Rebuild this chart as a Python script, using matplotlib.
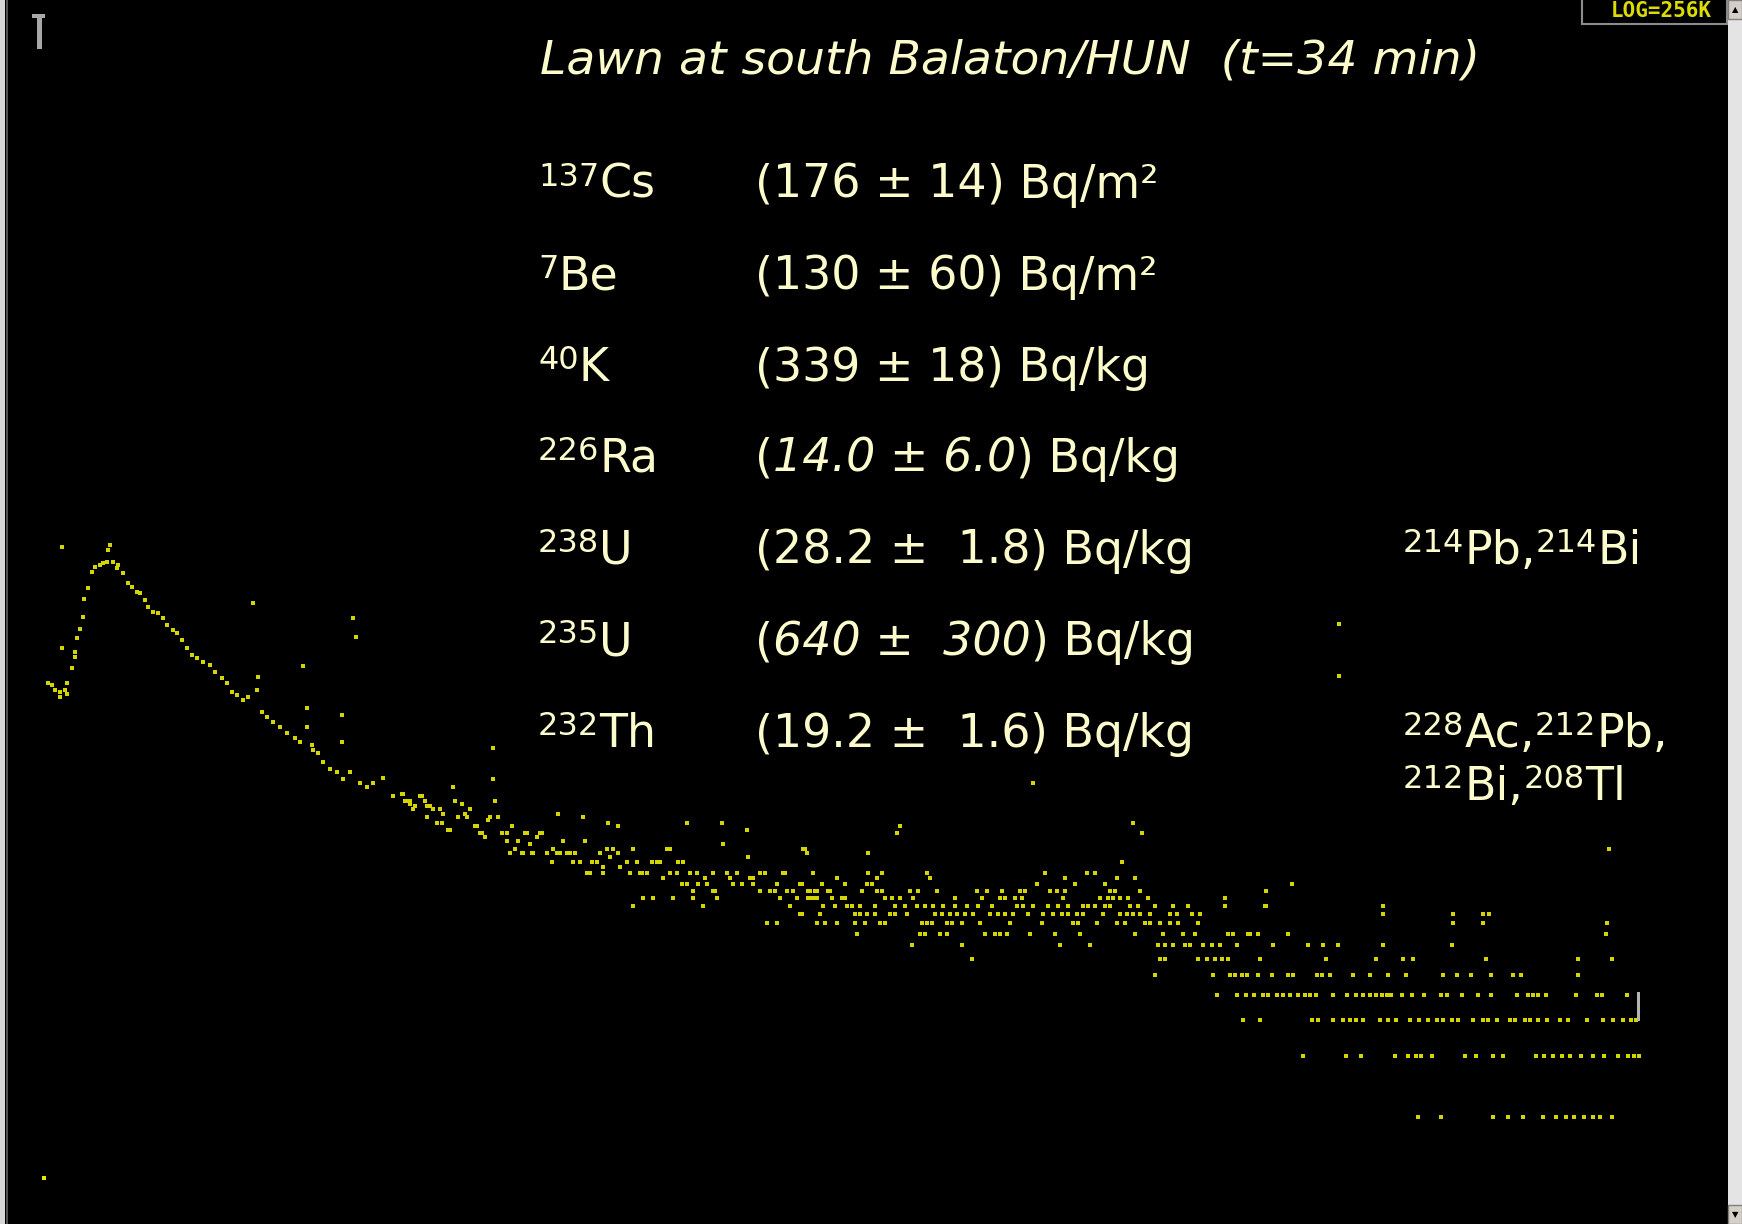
import matplotlib
matplotlib.use('Agg')
import matplotlib.pyplot as plt
from matplotlib.patches import Rectangle
import numpy as np

W, H = 1742, 1224
CREAM = '#fbfbcc'
DOT = '#d4d400'

# ---- spectrum data (channel, counts) ----
# rise, full-energy/backscatter hump and compton slope
seg_a_ch = [40, 44, 47, 52, 52, 57, 59, 59, 64, 67, 67, 69, 72, 75, 76, 80, 84, 87, 92, 95,
            99, 100, 102, 105, 109, 110, 115, 120, 124, 129, 132, 137, 140, 145, 150, 155,
            159, 165, 169, 174, 179, 184, 189, 195, 202, 207, 214, 219, 224, 229, 235, 240,
            249, 254, 259, 265, 272, 279, 287, 292, 304, 310, 315, 322, 329, 335, 342, 352,
            359, 365, 375, 385, 395, 402, 412, 419, 425]
seg_a_cnt = [137, 135, 127, 124, 117, 127, 137, 121, 163, 195, 185, 229, 254, 290, 356, 404,
             484, 512, 524, 536, 542, 621, 657, 542, 506, 524, 478, 427, 408, 386, 381, 352,
             325, 307, 304, 287, 265, 251, 242, 224, 204, 189, 182, 174, 169, 156, 145, 137,
             124, 120, 113, 117, 127, 99, 93, 88, 83, 78, 74, 70, 68, 62, 56, 52, 50, 46, 50,
             44, 42, 44, 47, 38, 39, 36, 38, 34, 33]

# middle continuum
seg_b_ch = [394, 397, 399, 402, 405, 407, 414, 417, 419, 422, 425, 429, 432, 434, 435, 440, 442,
            445, 447, 450, 454, 457, 459, 462, 467, 469, 472, 474, 477, 480, 482, 487, 490, 494,
            499, 499, 502, 504, 507, 510, 514, 515, 517, 519, 522, 524, 525, 529, 532, 534, 539,
            544, 545, 549, 549, 552, 555, 559, 562, 565, 567, 572, 577, 579, 582, 584, 589, 592,
            595, 595, 599, 602, 605, 610, 612, 619, 622, 625, 629, 632, 634, 639, 639, 644, 649,
            652, 655, 659, 662, 662, 669, 670, 674, 675, 679, 682, 685, 689, 690, 697, 699, 705,
            705, 709, 715, 719, 722, 725, 729, 734, 739, 742, 745, 745, 752, 752, 757, 762, 762,
            767, 769, 772, 775, 779, 785, 789, 792, 797, 800, 805, 807, 809]
seg_b_cnt = [39, 36, 36, 35, 33, 34, 38, 36, 30, 34, 33, 28, 33, 28, 31, 26, 26,
             42, 36, 30, 35, 31, 30, 33, 27, 27, 25, 25, 24, 29, 30, 36, 30, 25,
             23, 25, 20, 27, 21, 23, 20, 20, 25, 25, 22, 20, 20, 24, 25, 25, 20,
             18, 21, 20, 20, 20, 23, 20, 20, 18, 20, 18, 23, 16, 16, 18, 18, 20,
             16, 17, 21, 19, 21, 20, 17, 18, 16, 21, 18, 16, 16, 16, 16, 18, 18,
             18, 15, 21, 16, 21, 16, 18, 14, 18, 14, 16, 13, 16, 14, 15, 14, 16,
             13, 12, 22, 16, 15, 14, 16, 14, 26, 15, 15, 14, 16, 13, 16, 13, 13,
             13, 14, 12, 16, 13, 13, 12, 14, 21, 13, 16, 12, 13]

# isolated counts away from the main band
stray_ch = [54, 54, 245, 345, 348, 295, 299, 334, 334, 250, 299, 305, 485, 485, 550, 575,
            600, 610, 679, 714, 625, 635, 645, 665, 685, 695, 707, 759, 769, 782, 792, 802,
            740, 777, 889, 1134, 795, 1601, 799, 860, 1114, 1331, 1331, 1125, 892, 1025]
stray_cnt = [643, 204, 341, 287, 231, 167, 103, 96, 70, 147, 83, 64, 66, 46, 31, 30,
             28, 27, 28, 28, 11, 12, 12, 12, 12, 11, 13, 9, 9, 11, 10, 12,
             19, 16, 25, 25, 21, 21, 20, 20, 18, 268, 149, 28, 27, 44]

# high-energy tail: channels showing each integer count
band16 = [805, 860, 874, 919, 1037, 1079, 1087]
band15 = [829, 869, 922, 1057, 1109, 1127]
band14 = [794, 814, 837, 859, 864, 1029, 1067, 1097, 1284]
band13 = [802, 807, 820, 822, 854, 869, 874, 902, 910, 929, 969, 979, 994, 1012, 1017, 1042,
          1049, 1057, 1102, 1107, 1132, 1258]
band12 = [800, 804, 809, 824, 834, 837, 877, 884, 892, 905, 947, 974, 992, 997, 1007, 1014,
          1055, 1092, 1100, 1105, 1112, 1120, 1140, 1217]
band11 = [815, 827, 839, 844, 852, 867, 887, 897, 909, 917, 925, 935, 947, 959, 970, 984, 1009,
          1015, 1025, 1040, 1050, 1060, 1075, 1080, 1087, 1097, 1102, 1122, 1130, 1147, 1165,
          1180, 1217, 1257, 1258, 1375]
band10 = [794, 812, 847, 852, 859, 867, 882, 887, 899, 927, 934, 942, 949, 957, 965, 982, 990,
          997, 1005, 1020, 1035, 1045, 1054, 1060, 1069, 1075, 1095, 1112, 1119, 1125, 1132,
          1142, 1162, 1169, 1184, 1192, 1375, 1445, 1475, 1481]
band9 = [809, 817, 829, 847, 857, 872, 877, 914, 919, 924, 939, 944, 954, 972, 1002, 1034, 1065,
         1070, 1089, 1109, 1117, 1137, 1142, 1152, 1162, 1170, 1190, 1445, 1475, 1599]
band8 = [849, 912, 917, 932, 939, 977, 987, 992, 999, 1022, 1047, 1072, 1127, 1155, 1175, 1187,
         1220, 1225, 1240, 1242, 1250, 1280, 1598]
band7 = [904, 954, 1052, 1082, 1150, 1157, 1165, 1177, 1182, 1195, 1204, 1212, 1229, 1265, 1300,
         1315, 1330, 1375, 1444]
band6 = [964, 1152, 1157, 1190, 1199, 1207, 1214, 1220, 1252, 1318, 1368, 1395, 1405, 1478,
         1570, 1604]
band5 = [1147, 1205, 1222, 1227, 1234, 1239, 1250, 1264, 1280, 1285, 1309, 1314, 1322, 1345,
         1362, 1380, 1398, 1435, 1449, 1463, 1483, 1505, 1513, 1570]
band4 = [1209, 1229, 1238, 1246, 1255, 1260, 1269, 1275, 1282, 1290, 1297, 1302, 1308, 1325,
         1339, 1348, 1355, 1362, 1368, 1374, 1379, 1383, 1394, 1404, 1416, 1433, 1439, 1454,
         1470, 1483, 1509, 1520, 1525, 1530, 1538, 1568, 1589, 1594, 1619]
band3 = [1235, 1252, 1304, 1310, 1325, 1335, 1342, 1348, 1355, 1372, 1380, 1388, 1402, 1411,
         1420, 1429, 1435, 1444, 1450, 1465, 1475, 1480, 1489, 1502, 1507, 1517, 1522, 1530,
         1539, 1552, 1560, 1579, 1595, 1605, 1615, 1623, 1628]
band2 = [1295, 1338, 1353, 1387, 1400, 1408, 1413, 1424, 1457, 1468, 1485, 1495, 1528, 1536,
         1545, 1554, 1562, 1573, 1585, 1596, 1610, 1620, 1626, 1631]
band1 = [1410, 1433, 1485, 1500, 1515, 1535, 1548, 1558, 1566, 1576, 1585, 1592, 1604]
bands = [(16, band16), (15, band15), (14, band14), (13, band13), (12, band12), (11, band11),
         (10, band10), (9, band9), (8, band8), (7, band7), (6, band6), (5, band5), (4, band4),
         (3, band3), (2, band2), (1, band1)]

zero_mark_ch = [36]
zero_mark_cnt = [0.5]

# ---- text ----
title = 'Lawn at south Balaton/HUN  (t=34 min)'
nuclide_mass = ['137', '7', '40', '226', '238', '235', '232']
nuclide_sym = ['Cs', 'Be', 'K', 'Ra', 'U', 'U', 'Th']
act_value = ['176 \u00b1 14', '130 \u00b1 60', '339 \u00b1 18', '14.0 \u00b1 6.0',
             '28.2 \u00b1  1.8', '640 \u00b1  300', '19.2 \u00b1  1.6']
act_unit = ['Bq/m\u00b2', 'Bq/m\u00b2', 'Bq/kg', 'Bq/kg', 'Bq/kg', 'Bq/kg', 'Bq/kg']
act_italic = [False, False, False, True, False, True, False]

fig = plt.figure(figsize=(W / 100, H / 100), dpi=100, facecolor='black')
ax = fig.add_axes([8 / W, 0, 1719 / W, 1])
ax.set_facecolor('black')
ax.set_yscale('log')
ax.set_xlim(0, 1719)
ax.set_ylim(10 ** -0.527, 10 ** 5.502)
ax.set_axis_off()

kw = dict(ls='none', marker='s', ms=2.6, mew=0, color=DOT)
ax.plot(seg_a_ch, seg_a_cnt, **kw)
ax.plot(seg_b_ch, seg_b_cnt, **kw)
ax.plot(stray_ch, stray_cnt, **kw)
for c, chs in bands:
    ax.plot(chs, [c] * len(chs), **kw)
ax.plot(zero_mark_ch, zero_mark_cnt, ls='none', marker='s', ms=3, mew=0, color='#e8e800')


def rect(x0, y0, x1, y1, **k):
    # pixel box, y measured from the top
    fig.add_artist(Rectangle((x0 / W, 1 - y1 / H), (x1 - x0) / W, (y1 - y0) / H,
                             transform=fig.transFigure, **k))


# window chrome
rect(0, 0, 5, H, color='#d6d6d6', lw=0)
rect(6, 0, 8, H, color='#505050', lw=0)
rect(1728, 0, W, H, color='#e4e4e4', lw=0)
rect(1728, 0, W, 19, facecolor='#d4d0c8', edgecolor='#808080', lw=1)
rect(1728, 1205, W, H, facecolor='#d4d0c8', edgecolor='#808080', lw=1)
fig.text(1735 / W, 1 - 10 / H, '\u25b2', fontsize=6, color='black', ha='center', va='center')
fig.text(1735 / W, 1 - 1215 / H, '\u25bc', fontsize=6, color='black', ha='center', va='center')
rect(1582, -2, 1727, 24, facecolor='black', edgecolor='#8c8c8c', lw=1.5)
fig.text(1661 / W, 1 - 11 / H, 'LOG=256K', fontsize=15, fontweight='bold',
         family='DejaVu Sans Mono', color='#dcdc00', ha='center', va='center')
# markers
rect(32, 14, 45, 18, color='#a8a8a8', lw=0)
rect(37, 15, 42, 49, color='#a8a8a8', lw=0)
rect(1637, 992, 1640, 1021, color='#b4b4b4', lw=0)

renderer = fig.canvas.get_renderer()


def runs(x, y, parts):
    # parts: (text, size, style, raise_px)
    for txt, size, style, dy in parts:
        t = fig.text(x / W, 1 - (y - dy) / H, txt, fontsize=size, style=style,
                     color=CREAM, ha='left', va='baseline')
        x += t.get_window_extent(renderer).width
    return x


fig.text(540 / W, 1 - 74 / H, title, fontsize=34, style='italic', color=CREAM,
         ha='left', va='baseline')

MAIN, SUP, UP = 33, 23, 12
base_y = [198, 290, 381, 472, 564, 655, 747]
for i in range(len(nuclide_sym)):
    y = base_y[i]
    runs(538, y, [(nuclide_mass[i], SUP, 'normal', UP), (nuclide_sym[i], MAIN, 'normal', 0)])
    st = 'italic' if act_italic[i] else 'normal'
    runs(755, y, [('(', MAIN, 'normal', 0), (act_value[i], MAIN, st, 0),
                  (') ' + act_unit[i], MAIN, 'normal', 0)])

runs(1403, 564, [('214', SUP, 'normal', UP), ('Pb,', MAIN, 'normal', 0),
                 ('214', SUP, 'normal', UP), ('Bi', MAIN, 'normal', 0)])
runs(1403, 747, [('228', SUP, 'normal', UP), ('Ac,', MAIN, 'normal', 0),
                 ('212', SUP, 'normal', UP), ('Pb,', MAIN, 'normal', 0)])
runs(1403, 800, [('212', SUP, 'normal', UP), ('Bi,', MAIN, 'normal', 0),
                 ('208', SUP, 'normal', UP), ('Tl', MAIN, 'normal', 0)])

fig.savefig('out.png', dpi=100, facecolor='black')
